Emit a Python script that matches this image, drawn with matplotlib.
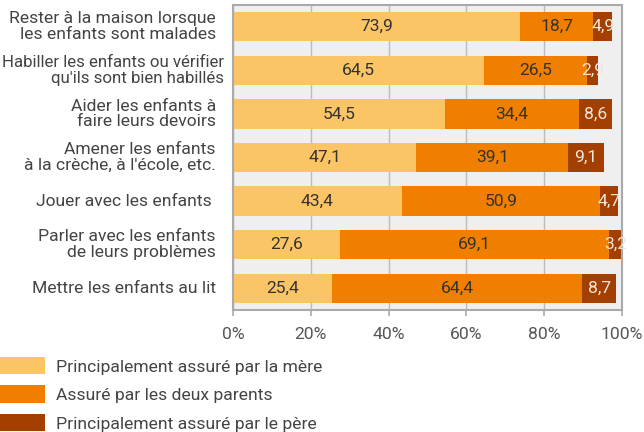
import numpy as np
import matplotlib.pyplot as plt
import matplotlib.transforms as mtransforms
from matplotlib.patches import Patch

plt.rcParams['font.family'] = ['Roboto', 'DejaVu Sans']

# donnees
categories = ["Rester à la maison lorsque\nles enfants sont malades",
              "Habiller les enfants ou vérifier\nqu'ils sont bien habillés",
              "Aider les enfants à\nfaire leurs devoirs",
              "Amener les enfants\nà la crèche, à l'école, etc.",
              "Jouer avec les enfants ",
              "Parler avec les enfants\nde leurs problèmes",
              "Mettre les enfants au lit"]
mere = [73.9, 64.5, 54.5, 47.1, 43.4, 27.6, 25.4]
deux = [18.7, 26.5, 34.4, 39.1, 50.9, 69.1, 64.4]
pere = [4.9, 2.9, 8.6, 9.1, 4.7, 3.2, 8.7]
series_noms = ["Principalement assuré par la mère",
               "Assuré par les deux parents",
               "Principalement assuré par le père"]
xticks = [0, 20, 40, 60, 80, 100]

couleurs = ['#FBC465', '#F07F00', '#A33F00']
couleurs_txt = ['#333333', '#333333', '#F5E6DA']
fs = 12.6

fig = plt.figure(figsize=(6.44, 4.32), dpi=100)
ax = fig.add_axes([0.3618, 0.2824, 0.604, 0.706])
ax.set_facecolor('#EFEFEF')

y = np.arange(len(categories))
gauche = np.zeros(len(categories))
for vals, c, ct in zip([mere, deux, pere], couleurs, couleurs_txt):
    vals = np.array(vals)
    ax.barh(y, vals, left=gauche, height=0.67, color=c, zorder=2)
    for yi, g, v in zip(y, gauche, vals):
        ax.text(g + v / 2, yi, ('%.1f' % v).replace('.', ','), ha='center',
                va='center', color=ct, fontsize=fs, zorder=3)
    gauche = gauche + vals

ax.set_ylim(len(categories) - 0.5, -0.5)
ax.set_xlim(0, 100)
ax.set_yticks([])
# etiquettes des categories (la 2e est decalee comme dans l'original)
for i, cat in enumerate(categories):
    dx = -9 if i == 1 else -17
    taille = 12.2 if i == 1 else fs
    tr = ax.get_yaxis_transform() + mtransforms.ScaledTranslation(
        dx / 100, 0, fig.dpi_scale_trans)
    ax.text(0, i, cat, transform=tr, ha='right', va='center', fontsize=taille,
            color='#444444', linespacing=1.05, multialignment='right')

ax.set_xticks(xticks)
ax.set_xticklabels(['%d%%' % t for t in xticks], fontsize=fs,
                   color='#555555')
ax.tick_params(axis='x', length=4, color='#AAAAAA', width=1.2, pad=8)
ax.grid(axis='x', color='#BBBBBB', lw=1.0, zorder=1)
for s in ax.spines.values():
    s.set_color('#AAAAAA')
    s.set_linewidth(1.5)

poignees = [Patch(facecolor=c, edgecolor='none') for c in couleurs]
leg = fig.legend(poignees, series_noms, loc='upper left',
                 bbox_to_anchor=(0.0, 1 - 357 / 432), frameon=False,
                 borderpad=0, borderaxespad=0, handlelength=2.6,
                 handleheight=1.15, handletextpad=0.62, labelspacing=0.62,
                 prop={'size': fs})
for t in leg.get_texts():
    t.set_color('#444444')

fig.savefig('out.png', dpi=100)
